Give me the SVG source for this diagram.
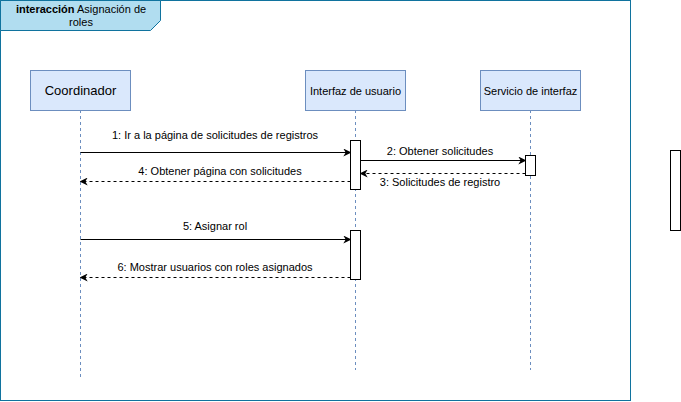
<svg xmlns="http://www.w3.org/2000/svg" width="681" height="402" viewBox="0 0 681 402">
<style>
.lbl{font-family:"Liberation Sans",Arial,sans-serif;font-size:11px;fill:#000;text-anchor:middle}
.actor{fill:#dae8fc;stroke:#6c8ebf;stroke-width:1}
.life{stroke:#6c8ebf;stroke-width:1;stroke-dasharray:3 3;fill:none}
.act{fill:#fff;stroke:#000;stroke-width:1}
.msg{stroke:#000;stroke-width:1;fill:none}
.ret{stroke:#000;stroke-width:1;fill:none;stroke-dasharray:3 3}
</style>
<defs>
<marker id="ah" viewBox="0 0 10 10" refX="9" refY="5" markerWidth="8" markerHeight="8" markerUnits="userSpaceOnUse" orient="auto">
<path d="M0,0 L10,5 L0,10 L3,5 Z" fill="#000"/>
</marker>
</defs>
<rect width="681" height="402" fill="#fff"/>
<g id="frame">
<rect x="0.5" y="0.5" width="630" height="400" fill="none" stroke="#10739e" stroke-width="1"/>
<path d="M0.5,0.5 H160.5 V20.5 L150.5,30.5 H0.5 Z" fill="#b1ddf0" stroke="#10739e" stroke-width="1"/>
<text x="81" y="13" class="lbl"><tspan font-weight="bold">interacción</tspan> Asignación de</text>
<text x="81" y="26" class="lbl">roles</text>
</g>
<g id="coordinador">
<line x1="80.5" y1="110" x2="80.5" y2="378" class="life"/>
<rect x="30.5" y="70.5" width="100" height="40" class="actor"/>
<text x="80.5" y="95" class="lbl" style="font-size:13px">Coordinador</text>
</g>
<g id="interfaz">
<line x1="355.5" y1="110" x2="355.5" y2="370" class="life"/>
<rect x="305.5" y="70.5" width="100" height="40" class="actor"/>
<text x="355.5" y="95" class="lbl">Interfaz de usuario</text>
<rect x="350.5" y="140.5" width="10" height="49" class="act"/>
<rect x="350.5" y="230.5" width="10" height="49" class="act"/>
</g>
<g id="servicio">
<line x1="530.5" y1="110" x2="530.5" y2="370" class="life"/>
<rect x="480.5" y="70.5" width="100" height="40" class="actor"/>
<text x="530.5" y="95" class="lbl">Servicio de interfaz</text>
<rect x="525.5" y="155.5" width="10" height="20" class="act"/>
</g>
<g id="extra">
<rect x="670.5" y="150.5" width="10" height="80" class="act"/>
</g>
<g id="connectors">
<line x1="80.5" y1="152.5" x2="350.5" y2="152.5" class="msg" marker-end="url(#ah)"/>
<text x="215" y="139" class="lbl">1: Ir a la página de solicitudes de registros</text>
<line x1="360.5" y1="160.5" x2="525.5" y2="160.5" class="msg" marker-end="url(#ah)"/>
<text x="440" y="155" class="lbl">2: Obtener solicitudes</text>
<line x1="525.5" y1="173.5" x2="360.5" y2="173.5" class="ret" marker-end="url(#ah)"/>
<text x="440" y="186" class="lbl">3: Solicitudes de registro</text>
<line x1="350.5" y1="181.5" x2="80.5" y2="181.5" class="ret" marker-end="url(#ah)"/>
<text x="220" y="175" class="lbl">4: Obtener página con solicitudes</text>
<line x1="80.5" y1="239.5" x2="350.5" y2="239.5" class="msg" marker-end="url(#ah)"/>
<text x="215" y="230" class="lbl">5: Asignar rol</text>
<line x1="350.5" y1="277.5" x2="80.5" y2="277.5" class="ret" marker-end="url(#ah)"/>
<text x="215" y="271" class="lbl">6: Mostrar usuarios con roles asignados</text>
</g>
</svg>
